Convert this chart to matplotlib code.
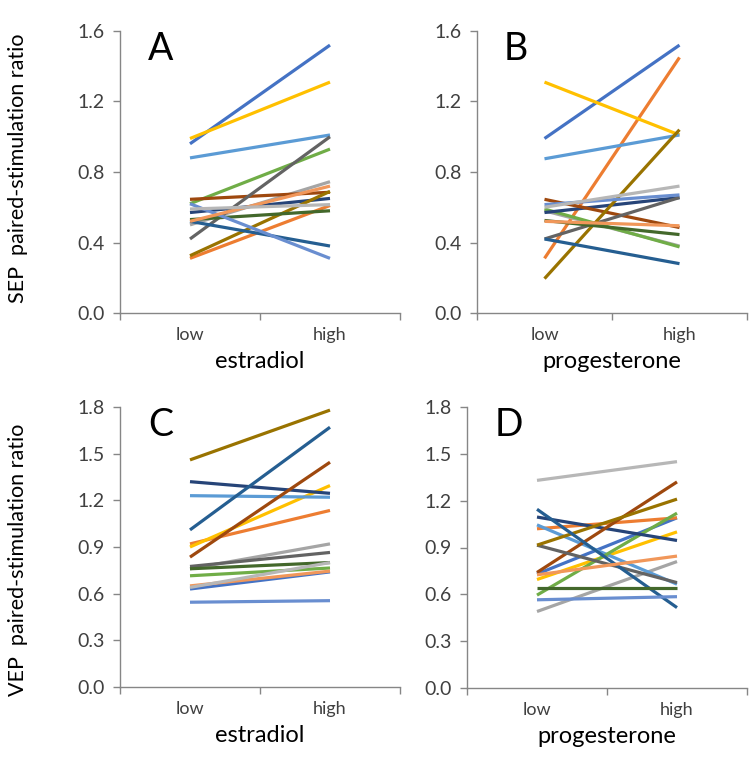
import matplotlib
matplotlib.use('Agg')
import matplotlib.pyplot as plt

plt.rcParams['font.family'] = ['Lato', 'DejaVu Sans']

# one colour per subject (Excel default series order)
colors = ['#4472C4', '#ED7D31', '#A5A5A5', '#FFC000', '#5B9BD5', '#70AD47',
          '#264478', '#9E480E', '#636363', '#997300', '#255E91', '#43682B',
          '#698ED0', '#F1975A', '#B7B7B7']

categories = ['low', 'high']

# SEP, estradiol
sep_estr_low = [0.96, 0.31, 0.50, 0.99, 0.88, 0.62, 0.57, 0.645, 0.42, 0.325, 0.52, 0.53, 0.62, 0.52, 0.59]
sep_estr_high = [1.52, 0.61, 0.745, 1.31, 1.01, 0.93, 0.65, 0.685, 1.00, 0.69, 0.38, 0.58, 0.31, 0.72, 0.615]

# SEP, progesterone
sep_prog_low = [0.99, 0.31, 0.58, 1.31, 0.875, 0.59, 0.57, 0.645, 0.42, 0.195, 0.42, 0.525, 0.615, 0.52, 0.60]
sep_prog_high = [1.52, 1.45, 0.38, 1.01, 1.01, 0.375, 0.655, 0.485, 0.655, 1.04, 0.28, 0.445, 0.67, 0.495, 0.72]

# VEP, estradiol
vep_estr_low = [0.63, 0.92, 0.76, 0.90, 1.23, 0.715, 1.32, 0.835, 0.775, 1.46, 1.01, 0.76, 0.545, 0.65, 0.64]
vep_estr_high = [0.74, 1.135, 0.92, 1.295, 1.22, 0.765, 1.245, 1.445, 0.865, 1.78, 1.67, 0.80, 0.555, 0.745, 0.80]

# VEP, progesterone
vep_prog_low = [0.73, 1.02, 0.49, 0.695, 1.045, 0.595, 1.095, 0.74, 0.915, 0.915, 1.145, 0.64, 0.565, 0.725, 1.33]
vep_prog_high = [1.09, 1.09, 0.81, 1.00, 0.665, 1.12, 0.945, 1.32, 0.675, 1.21, 0.515, 0.64, 0.585, 0.845, 1.45]

W, H = 749, 762
fig = plt.figure(figsize=(W / 100, H / 100), dpi=100)


def make_ax(left, right, top, bottom):
    return fig.add_axes([left / W, 1 - bottom / H, (right - left) / W, (bottom - top) / H])


def draw(ax, low, high, ymax, ystep, letter, xlabel):
    for lo, hi, c in zip(low, high, colors):
        ax.plot([0.5, 1.5], [lo, hi], color=c, lw=2.3, solid_capstyle='butt')
    n = int(round(ymax / ystep))
    ax.set_xlim(0, 2)
    ax.set_ylim(0, ymax)
    ax.set_yticks([i * ystep for i in range(n + 1)])
    ax.set_yticklabels(['%.1f' % (i * ystep) for i in range(n + 1)])
    ax.set_xticks([0, 1, 2])
    ax.set_xticklabels([])
    ax.set_xticks([0.5, 1.5], minor=True)
    ax.set_xticklabels(categories, minor=True)
    ax.tick_params(axis='x', which='major', length=5, width=1, color='#868686')
    ax.tick_params(axis='x', which='minor', length=0, pad=10, labelsize=13, labelcolor='#404040')
    ax.tick_params(axis='y', length=5, width=1, color='#868686', labelsize=14, labelcolor='#404040', pad=6)
    for s in ['top', 'right']:
        ax.spines[s].set_visible(False)
    for s in ['left', 'bottom']:
        ax.spines[s].set_color('#868686')
        ax.spines[s].set_linewidth(1)
    ax.set_xlabel(xlabel, fontsize=17, color='black', labelpad=6)
    ax.text(0.1, 1.0, letter, transform=ax.transAxes, fontsize=27, ha='left', va='top')


axA = make_ax(120, 400, 31, 313)
axB = make_ax(477, 747, 31, 313)
axC = make_ax(120, 400, 407, 687)
axD = make_ax(467, 747, 407, 688)

draw(axA, sep_estr_low, sep_estr_high, 1.6, 0.4, 'A', 'estradiol')
draw(axB, sep_prog_low, sep_prog_high, 1.6, 0.4, 'B', 'progesterone')
draw(axC, vep_estr_low, vep_estr_high, 1.8, 0.3, 'C', 'estradiol')
draw(axD, vep_prog_low, vep_prog_high, 1.8, 0.3, 'D', 'progesterone')

fig.text(18 / W, 1 - 168 / H, 'SEP  paired-stimulation ratio', rotation=90,
         ha='center', va='center', fontsize=15.5)
fig.text(18 / W, 1 - 560 / H, 'VEP  paired-stimulation ratio', rotation=90,
         ha='center', va='center', fontsize=15.5)

fig.savefig('out.png', dpi=100)
